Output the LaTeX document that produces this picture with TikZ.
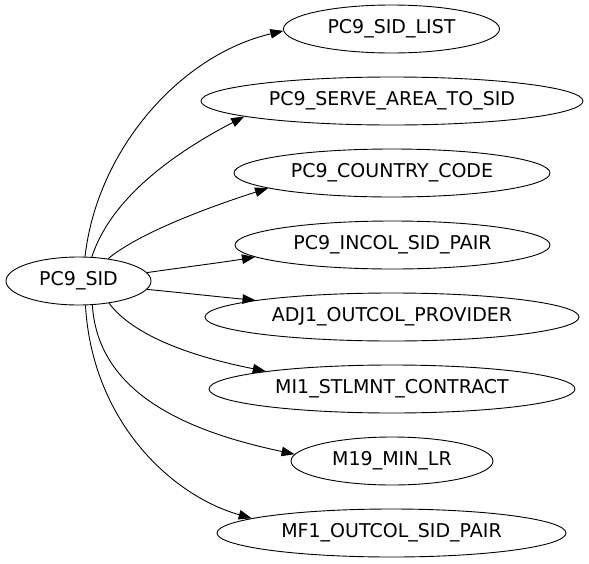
\documentclass[tikz,border=0pt]{standalone}
\usepackage{fontspec}
\setmainfont{DejaVu Sans}
\usetikzlibrary{shapes.geometric,arrows.meta}
\begin{document}
\begin{tikzpicture}[x=1pt,y=-1pt,
  nd/.style={draw,ellipse,inner sep=0pt,minimum height=48pt,line width=0.9pt,
    font=\fontsize{19}{22}\selectfont},
  ed/.style={line width=0.9pt,-{Triangle[length=13pt,width=9.5pt]}}]
\useasboundingbox (0,0) rectangle (589,563);
\node[nd,minimum width=145pt] (sid) at (78.5,281) {PC9\_SID};
\node[nd,minimum width=216pt] (list) at (391.5,29) {PC9\_SID\_LIST};
\node[nd,minimum width=382pt] (serve) at (392,101) {PC9\_SERVE\_AREA\_TO\_SID};
\node[nd,minimum width=316pt] (country) at (392,173) {PC9\_COUNTRY\_CODE};
\node[nd,minimum width=315pt] (incol) at (392.5,245) {PC9\_INCOL\_SID\_PAIR};
\node[nd,minimum width=374pt] (adj) at (392,317) {ADJ1\_OUTCOL\_PROVIDER};
\node[nd,minimum width=366pt] (mi) at (392,389) {MI1\_STLMNT\_CONTRACT};
\node[nd,minimum width=202pt] (m19) at (392,461) {M19\_MIN\_LR};
\node[nd,minimum width=349pt] (mf) at (391.5,533) {MF1\_OUTCOL\_SID\_PAIR};
\draw[ed] (sid.75) .. controls (97,150) and (180,55) .. (list.181.6);
\draw[ed] (sid.61) .. controls (112,195) and (180,150) .. (serve.186.3);
\draw[ed] (sid.37) .. controls (140,232) and (215,205) .. (country.187.1);
\draw[ed] (sid.7.4) .. controls (186,267) and (225,262) .. (incol.185.7);
\draw[ed] (sid.-7.2) .. controls (185,293) and (220,297) .. (adj.173);
\draw[ed] (sid.-36) .. controls (140,345) and (225,363) .. (mi.172.4);
\draw[ed] (sid.-60.6) .. controls (98,395) and (190,432) .. (m19.176.5);
\draw[ed] (sid.-74.8) .. controls (92,420) and (170,495) .. (mf.174.9);
\end{tikzpicture}
\end{document}
